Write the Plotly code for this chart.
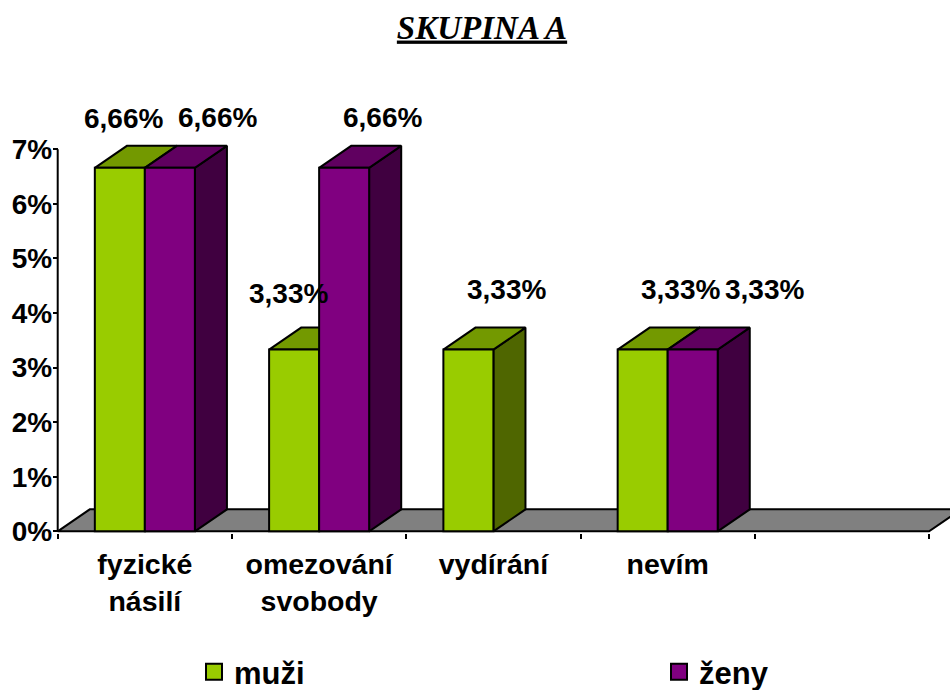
import plotly.graph_objects as go

categories = ["fyzické<br>násilí", "omezování<br>svobody", "vydírání", "nevím"]
muzi = [6.66, 3.33, 3.33, 3.33]
zeny = [6.66, 6.66, None, 3.33]
y_ticks = [0, 1, 2, 3, 4, 5, 6, 7]
y_labels = ["0%", "1%", "2%", "3%", "4%", "5%", "6%", "7%"]
n_slots = 5

GREEN, GREEN_TOP, GREEN_SIDE = "#99CC00", "#739900", "#4F6600"
PURPLE, PURPLE_TOP, PURPLE_SIDE = "#800080", "#600060", "#400040"
FLOOR = "#808080"
SANS = "Liberation Sans"
LINE = 2
DX, DY = 0.184, 0.403      # oblique depth in axis units
BAR = 0.287                # single bar width in slots
centers = [i + 0.5 for i in range(len(categories))]
# hand placement of the value labels relative to their bar top (px)
muzi_shift = [(4, -49), (-6, -56), (38, -60), (38, -60)]
zeny_shift = [(48, -50), (38, -50), None, (72, -60)]

X_RANGE = [-0.05, 5.12]
Y_RANGE = [-0.03, 7.5]


def poly(kind, left, val):
    right = left + BAR
    if kind == "top":
        return [left, right, right + DX, left + DX, left, None], [val, val, val + DY, val + DY, val, None]
    return [right, right + DX, right + DX, right, right, None], [0, DY, val + DY, val, 0, None]


def faces(vals, offset, kind):
    xs, ys = [], []
    for c, v in zip(centers, vals):
        if v is not None:
            a, b = poly(kind, c + offset, v)
            xs += a
            ys += b
    return xs, ys


def face_trace(vals, offset, kind, color):
    xs, ys = faces(vals, offset, kind)
    return go.Scatter(x=xs, y=ys, mode="lines", fill="toself", fillcolor=color,
                      line=dict(color="black", width=LINE), showlegend=False,
                      hoverinfo="skip", zorder=1)


fig = go.Figure()
fig.add_trace(go.Scatter(x=[0, n_slots, n_slots + DX, DX, 0], y=[0, 0, DY, DY, 0], mode="lines",
                         fill="toself", fillcolor=FLOOR, line=dict(color="black", width=LINE),
                         showlegend=False, hoverinfo="skip", zorder=0))
fig.add_trace(go.Scatter(x=[0, 0], y=[y_ticks[0], y_ticks[-1]], mode="lines",
                         line=dict(color="black", width=LINE), showlegend=False, hoverinfo="skip", zorder=0))
fig.add_trace(face_trace(muzi, -BAR, "side", GREEN_SIDE))
fig.add_trace(face_trace(muzi, -BAR, "top", GREEN_TOP))
fig.add_trace(face_trace(zeny, 0, "side", PURPLE_SIDE))
fig.add_trace(face_trace(zeny, 0, "top", PURPLE_TOP))
for name, vals, col, leg in (("muži", muzi, GREEN, "legend"), ("ženy", zeny, PURPLE, "legend2")):
    fig.add_trace(go.Bar(x=centers, y=vals, name=name, marker=dict(color=col, line=dict(color="black", width=LINE)),
                         showlegend=False, zorder=2))
    fig.add_trace(go.Scatter(x=[None], y=[None], mode="markers", name=name, legend=leg,
                             marker=dict(symbol="square", size=16, color=col, line=dict(color="black", width=LINE))))

for vals, shifts, off in ((muzi, muzi_shift, -BAR / 2), (zeny, zeny_shift, BAR / 2)):
    for c, v, s in zip(centers, vals, shifts):
        if v is None:
            continue
        fig.add_annotation(x=c + off, y=v, text=f"{v:.2f}%".replace(".", ","), showarrow=False,
                           xshift=s[0], yshift=-s[1], xanchor="center", yanchor="middle",
                           font=dict(family=SANS, size=28, color="black", weight=700))

legend_style = dict(orientation="v", xref="container", yref="container", xanchor="left", yanchor="middle", y=1 - 672 / 690,
                    itemsizing="trace", itemwidth=30, font=dict(family=SANS, size=31, color="black", weight=700),
                    bgcolor="rgba(0,0,0,0)")
fig.update_layout(
    width=950, height=690, margin=dict(l=49.3, r=0, t=122.2, b=156.7, autoexpand=False),
    paper_bgcolor="white", plot_bgcolor="white", autosize=False,
    barmode="group", bargap=1 - 2 * BAR, bargroupgap=0,
    title=dict(text="<b><i><u>SKUPINA A</u></i></b>", x=482 / 950, xanchor="center", xref="container", y=1 - 27 / 690,
               yref="container", yanchor="middle", automargin=False,
               font=dict(family="Liberation Serif", size=33, color="black")),
    xaxis=dict(range=X_RANGE, tickmode="array", tickvals=centers, ticktext=categories, ticks="", automargin=False,
               showgrid=False, zeroline=False, showline=False,
               tickfont=dict(family=SANS, size=28.5, color="black", weight=700), ticklabelstandoff=11,
               minor=dict(tickmode="array", tickvals=list(range(n_slots + 1)), ticks="outside", ticklen=5,
                          tickcolor="black", tickwidth=LINE, showgrid=False)),
    yaxis=dict(range=Y_RANGE, tickmode="array", tickvals=y_ticks, ticktext=y_labels, ticks="outside", ticklen=5,
               tickcolor="black", tickwidth=LINE, showgrid=False, zeroline=False, showline=False, automargin=False,
               anchor="free", position=0.05 / (X_RANGE[1] - X_RANGE[0]), ticklabelstandoff=-5,
               tickfont=dict(family=SANS, size=28, color="black", weight=700)),
    legend=dict(x=194 / 950, **legend_style),
    legend2=dict(x=659 / 950, **legend_style),
)
fig.write_html("out.html", config={"displayModeBar": False},
               post_script="document.body.style.margin='0';document.documentElement.style.overflow='hidden';")
